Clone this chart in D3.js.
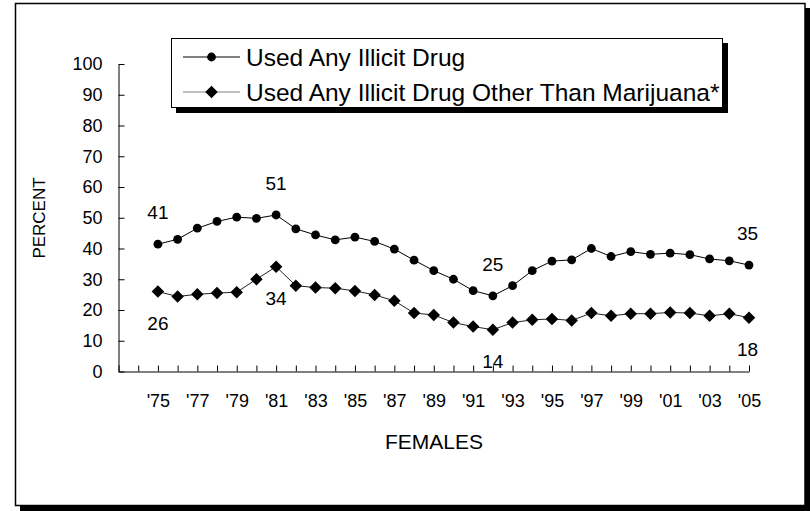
<!DOCTYPE html>
<html><head><meta charset="utf-8">
<script src="https://cdn.jsdelivr.net/npm/d3@7"></script>
<style>body{margin:0;background:#fff}svg text{font-family:Arial,"Liberation Sans",sans-serif;fill:#000}</style>
</head><body>
<svg id="c" width="810" height="511"></svg>
<script>
const years = d3.range(1975, 2006);
const anyIllicit = [41.4,43.0,46.6,48.8,50.2,49.8,50.9,46.4,44.4,42.8,43.7,42.3,39.8,36.2,32.8,30.0,26.3,24.6,27.9,32.8,35.9,36.3,40.0,37.4,39.0,38.1,38.5,38.0,36.6,36.0,34.6];
const otherThanMj = [26.0,24.4,25.1,25.5,25.8,30.0,34.1,27.9,27.3,27.1,26.2,24.9,23.0,19.0,18.4,15.9,14.6,13.6,15.9,16.8,17.1,16.6,19.0,18.1,18.8,18.8,19.2,19.0,18.1,18.8,17.5];
const yTicks = [0,10,20,30,40,50,60,70,80,90,100];
const xTicks = d3.range(1973, 2006);
const seriesNames = ["Used Any Illicit Drug","Used Any Illicit Drug Other Than Marijuana*"];
const annotations = [
  {year:1975, label:"41", s:0, pos:"above"},
  {year:1981, label:"51", s:0, pos:"above"},
  {year:1992, label:"25", s:0, pos:"above"},
  {year:2005, label:"35", s:0, pos:"above"},
  {year:1975, label:"26", s:1, pos:"below"},
  {year:1981, label:"34", s:1, pos:"below"},
  {year:1992, label:"14", s:1, pos:"below"},
  {year:2005, label:"18", s:1, pos:"below"}
];

const svg = d3.select("#c");
// outer frame with shadow
svg.append("rect").attr("x",20).attr("y",8).attr("width",790).attr("height",503).attr("fill","#000");
svg.append("rect").attr("x",15.5).attr("y",3.5).attr("width",789.5).attr("height",502).attr("fill","#fff").attr("stroke","#000").attr("stroke-width",1.5);

const x = d3.scaleLinear().domain([1973,2005]).range([118.5,749]);
const y = d3.scaleLinear().domain([0,100]).range([371.5,64]);

const yAxis = d3.axisLeft(y).tickValues(yTicks).tickSizeInner(-6).tickSizeOuter(0).tickPadding(16);
const gy = svg.append("g").attr("transform","translate(118.5,0)").call(yAxis);
gy.selectAll("text").attr("font-size",18).attr("font-family","Arial, Liberation Sans, sans-serif");

const xAxis = d3.axisBottom(x).tickValues(xTicks).tickSizeInner(-6).tickSizeOuter(0).tickPadding(23)
  .tickFormat(d => (d >= 1975 && d % 2 === 1) ? "'" + String(d).slice(2) : "");
const gx = svg.append("g").attr("transform","translate(0,371.5)").call(xAxis);
gx.selectAll("text").attr("font-size",18).attr("font-family","Arial, Liberation Sans, sans-serif");
svg.selectAll(".domain, .tick line").attr("stroke","#000").attr("stroke-width",1);

// lines
const line = d3.line().x((d,i)=>x(years[i])).y(d=>y(d));
svg.append("path").datum(anyIllicit).attr("d",line).attr("fill","none").attr("stroke","#000").attr("stroke-width",1);
svg.append("path").datum(otherThanMj).attr("d",line).attr("fill","none").attr("stroke","#222").attr("stroke-width",1);

svg.append("g").selectAll("circle").data(anyIllicit).join("circle")
  .attr("cx",(d,i)=>x(years[i])).attr("cy",d=>y(d)).attr("r",4.4).attr("fill","#000");
const dia = d3.symbol().type(d3.symbolDiamond2).size(100);
svg.append("g").selectAll("path").data(otherThanMj).join("path")
  .attr("d", dia).attr("transform",(d,i)=>`translate(${x(years[i])},${y(d)})`).attr("fill","#000");

// annotations
const data = [anyIllicit, otherThanMj];
svg.append("g").selectAll("text").data(annotations).join("text")
  .attr("x", d => x(d.year) - (d.year===2005 ? 1.5 : 0))
  .attr("y", d => { const v = data[d.s][years.indexOf(d.year)]; return d.pos==="above" ? y(v) - 25 : y(v) + 38; })
  .attr("text-anchor","middle").attr("font-size",19).text(d=>d.label);

// axis titles
svg.append("text").attr("transform","translate(45,218) rotate(-90)").attr("text-anchor","middle").attr("font-size",17).text("PERCENT");
svg.append("text").attr("x",434).attr("y",449).attr("text-anchor","middle").attr("font-size",21).text("FEMALES");

// legend
const lg = svg.append("g");
lg.append("rect").attr("x",176).attr("y",43).attr("width",552).attr("height",70).attr("fill","#000");
lg.append("rect").attr("x",171.5).attr("y",38.5).attr("width",551).attr("height",69).attr("fill","#fff").attr("stroke","#000").attr("stroke-width",1);
const ly = [57, 92];
lg.append("line").attr("x1",183).attr("x2",240).attr("y1",ly[0]).attr("y2",ly[0]).attr("stroke","#000");
lg.append("circle").attr("cx",211.5).attr("cy",ly[0]).attr("r",4.4).attr("fill","#000");
lg.append("line").attr("x1",183).attr("x2",240).attr("y1",ly[1]).attr("y2",ly[1]).attr("stroke","#808080");
lg.append("path").attr("d",dia).attr("transform",`translate(211.5,${ly[1]})`).attr("fill","#000");
lg.selectAll("text.l").data(seriesNames).join("text").attr("class","l")
  .attr("x",246).attr("y",(d,i)=>ly[i]).attr("dy","0.35em").attr("font-size",24.5).text(d=>d);
</script>
</body></html>
